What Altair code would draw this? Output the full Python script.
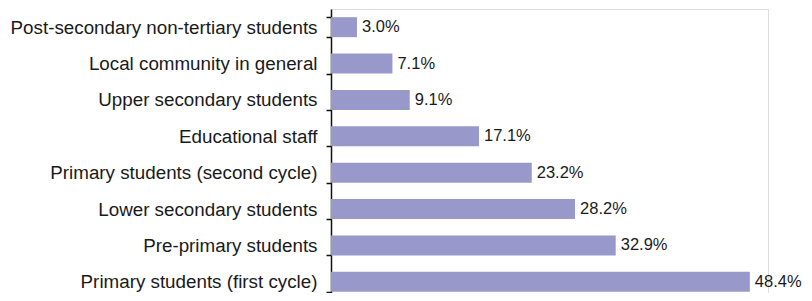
import altair as alt
import pandas as pd

categories = [
    "Post-secondary non-tertiary students",
    "Local community in general",
    "Upper secondary students",
    "Educational staff",
    "Primary students (second cycle)",
    "Lower secondary students",
    "Pre-primary students",
    "Primary students (first cycle)",
]
values = [3.0, 7.1, 9.1, 17.1, 23.2, 28.2, 32.9, 48.4]

df = pd.DataFrame({"category": categories, "value": values})

FONT = "Liberation Sans"

base = alt.Chart(df).encode(
    y=alt.Y(
        "category:N",
        sort=categories,
        title=None,
        scale=alt.Scale(paddingInner=0.45, paddingOuter=0.225),
        axis=alt.Axis(
            domainColor="#111111",
            domainWidth=1.5,
            tickColor="#111111",
            tickWidth=1.5,
            tickSize=5,
            tickBand="extent",
            labelFont=FONT,
            labelFontSize=18.8,
            labelColor="#1a1a1a",
            labelPadding=9,
            labelLimit=400,
        ),
    ),
    x=alt.X(
        "value:Q",
        title=None,
        axis=None,
        scale=alt.Scale(domain=[0, 50.5], nice=False),
    ),
)

bars = base.mark_bar(color="#9898CB")
text = base.transform_calculate(
    label="format(datum.value, '.1f') + '%'"
).mark_text(
    align="left", baseline="middle", dx=5, font=FONT, fontSize=16.5, color="#1a1a1a"
).encode(text="label:N")

chart = (
    (bars + text)
    .properties(
        width=437,
        height=291,
        autosize=alt.AutoSizeParams(type="none"),
        padding={"left": 323, "top": 1, "right": 36, "bottom": -7},
    )
    .configure_view(strokeWidth=0, stroke="transparent")
    .configure(background="white")
)

chart.save("out.html", embed_options={"renderer": "svg", "actions": False})
